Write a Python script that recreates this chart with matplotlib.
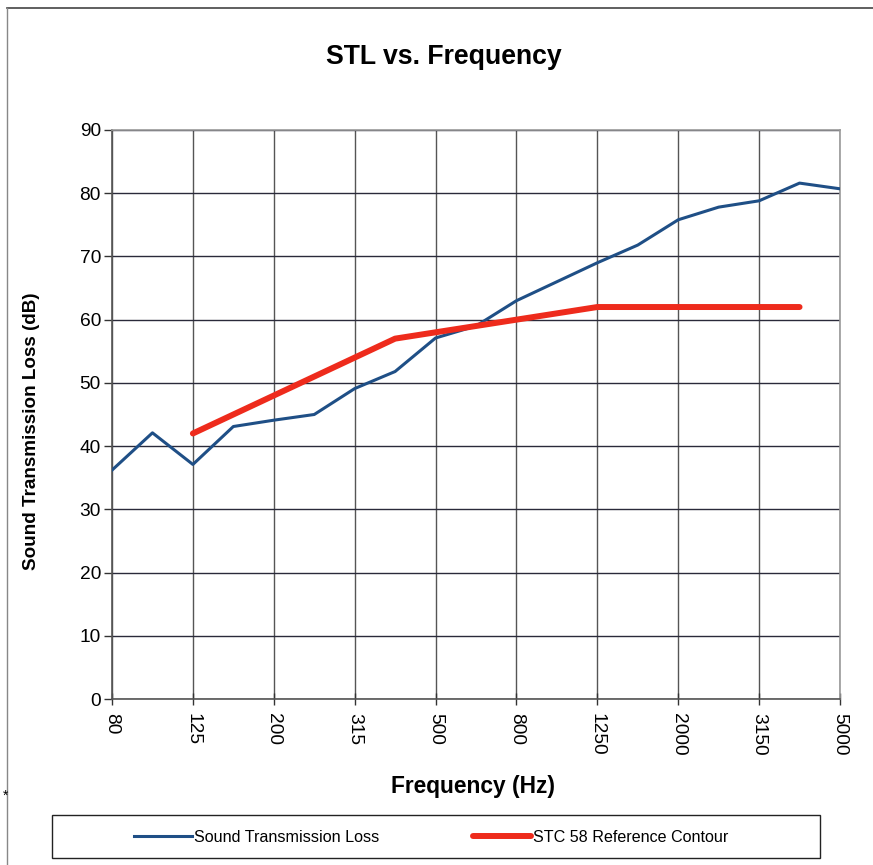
import matplotlib.pyplot as plt
from matplotlib.patches import Rectangle
from matplotlib.lines import Line2D

plt.rcParams['font.family'] = ['Liberation Sans', 'DejaVu Sans']

# 1/3 octave bands
bands = ["80", "100", "125", "160", "200", "250", "315", "400", "500", "630",
         "800", "1000", "1250", "1600", "2000", "2500", "3150", "4000", "5000"]
stl = [36.2, 42.1, 37.1, 43.1, 44.1, 45.0, 49.1, 51.8, 57.1, 59.0,
       63.0, 66.0, 69.0, 71.8, 75.8, 77.8, 78.8, 81.6, 80.7]
# STC 58 contour, 125 Hz to 4000 Hz
stc_bands = bands[2:18]
stc = [42, 45, 48, 51, 54, 57, 58, 59, 60, 61, 62, 62, 62, 62, 62, 62]

W, H = 873, 865
fig = plt.figure(figsize=(W / 100, H / 100), dpi=100)
ax = fig.add_axes([112 / W, 1 - 699 / H, (840 - 112) / W, (699 - 130) / H])

x_all = list(range(len(bands)))
x_stc = [bands.index(b) for b in stc_bands]

l1, = ax.plot(x_all, stl, color='#1f4f86', lw=2.2, label='Sound Transmission Loss', zorder=3)
l2, = ax.plot(x_stc, stc, color='#ee2b1c', lw=4.3, solid_capstyle='round',
              label='STC 58 Reference Contour', zorder=4)

ax.set_xlim(0, 18)
ax.set_ylim(0, 90)
ax.set_yticks(range(0, 91, 10))
ax.set_xticks(x_all[::2])
ax.set_xticklabels(bands[::2], rotation=270, fontsize=13.8)
ax.tick_params(axis='y', labelsize=13.8, direction='out', length=6, width=1,
               color='#333333', pad=2)
ax.tick_params(axis='x', direction='inout', length=8, width=1, color='#333333', pad=6)

ax.grid(axis='y', color='#2a2a3a', lw=1.0)
ax.grid(axis='x', color='#555555', lw=1.0)
ax.set_axisbelow(True)
for s in ax.spines.values():
    s.set_color('#999999')
    s.set_linewidth(1.2)
ax.spines['left'].set_color('#555555')
ax.spines['bottom'].set_color('#555555')

ax.set_ylabel('Sound Transmission Loss (dB)', fontsize=13.6, fontweight='bold')
ax.yaxis.set_label_coords((40 - 112) / 728, (699 - 431) / 569)
fig.text(473 / W, 1 - 786 / H, 'Frequency (Hz)', fontsize=16.4, fontweight='bold',
         ha='center', va='center')
fig.text(444 / W, 1 - 57 / H, 'STL vs. Frequency', fontsize=19.2, fontweight='bold',
         ha='center', va='center')

# legend box
fig.patches.append(Rectangle((52 / W, 1 - 858 / H), (820 - 52) / W, (858 - 815) / H,
                             transform=fig.transFigure, fill=False, ec='#222222', lw=1.0))
lfs = 11.6
hl = 58 / (lfs * 100 / 72)
for h, x0 in [(l1, 134), (l2, 473)]:
    fig.legend(handles=[h], loc='center left', bbox_to_anchor=(x0 / W, 1 - 837 / H),
               frameon=False, fontsize=lfs, handlelength=hl, handletextpad=0.12,
               borderpad=0, borderaxespad=0)

# outer frame and stray mark from the scan
fig.add_artist(Line2D([7 / W, 1], [1 - 8 / H, 1 - 8 / H], transform=fig.transFigure,
                      color='#444444', lw=1.2))
fig.add_artist(Line2D([7 / W, 7 / W], [0, 1 - 8 / H], transform=fig.transFigure,
                      color='#888888', lw=1.0))
fig.text(3 / W, 1 - 796 / H, '*', fontsize=10, ha='left', va='center')

fig.savefig('out.png', dpi=100)
